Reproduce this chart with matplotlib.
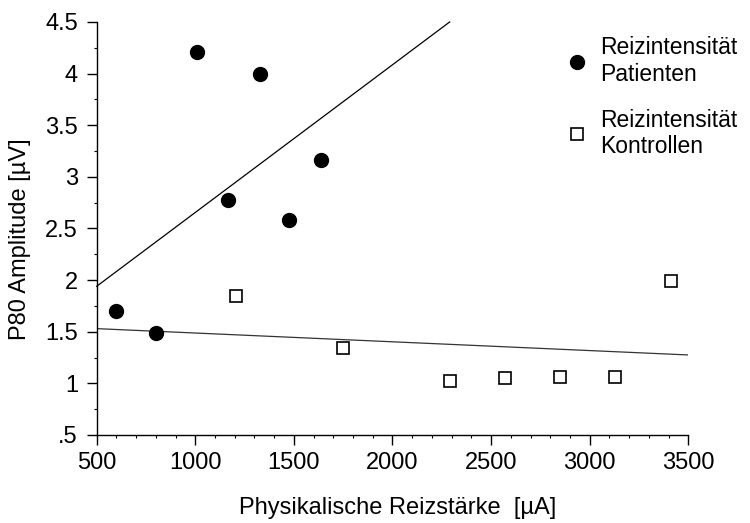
import matplotlib
matplotlib.use("Agg")
import matplotlib.pyplot as plt
from matplotlib.ticker import FuncFormatter, MultipleLocator

plt.rcParams['font.family'] = ['Liberation Sans', 'DejaVu Sans']

# Reizintensität Patienten
pat_x = [598, 801, 1010, 1166, 1328, 1475, 1639]
pat_y = [1.70, 1.485, 4.21, 2.78, 3.995, 2.58, 3.16]

# Reizintensität Kontrollen
kon_x = [1206, 1747, 2293, 2572, 2849, 3127, 3411]
kon_y = [1.85, 1.34, 1.02, 1.05, 1.06, 1.06, 1.99]

# regression lines (end points)
pat_fit_x = [500, 2290]
pat_fit_y = [1.94, 4.50]
kon_fit_x = [500, 3500]
kon_fit_y = [1.53, 1.275]

x_label = 'Physikalische Reizstärke  [µA]'
y_label = 'P80 Amplitude [µV]'
legend_labels = ['Reizintensität\nPatienten', 'Reizintensität\nKontrollen']


def _ytick(v, pos):
    s = f'{v:g}'
    return s[1:] if s.startswith('0.') else s


fig = plt.figure(figsize=(7.5, 5.23), dpi=100)
ax = fig.add_axes([0.1289, 0.1683, 0.7888, 0.7897])

ax.plot(pat_fit_x, pat_fit_y, color='black', lw=0.9, clip_on=False)
ax.plot(kon_fit_x, kon_fit_y, color='#333333', lw=0.9)

h1, = ax.plot(pat_x, pat_y, 'o', ms=10, color='black', mec='black', ls='none', clip_on=False)
h2, = ax.plot(kon_x, kon_y, 's', ms=8, mfc='white', mec='black', mew=1.2, ls='none', clip_on=False)

ax.set_xlim(500, 3500)
ax.set_ylim(0.5, 4.5)
ax.xaxis.set_major_locator(MultipleLocator(500))
ax.xaxis.set_minor_locator(MultipleLocator(100))
ax.yaxis.set_major_locator(MultipleLocator(0.5))
ax.yaxis.set_minor_locator(MultipleLocator(0.25))
ax.yaxis.set_major_formatter(FuncFormatter(_ytick))

for side in ('top', 'right'):
    ax.spines[side].set_visible(False)
for side in ('left', 'bottom'):
    ax.spines[side].set_linewidth(1.0)
ax.tick_params(which='major', direction='out', length=7, width=1.0, labelsize=17)
ax.tick_params(axis='x', which='major', pad=5.5)
ax.tick_params(axis='y', which='major', pad=6.5)
ax.tick_params(which='minor', direction='out', length=2.5, width=0.8)

ax.set_xlabel(x_label, fontsize=17, labelpad=16.5)
ax.set_ylabel(y_label, fontsize=17, labelpad=10)
ax.xaxis.label.set_x(0.508)
ax.yaxis.label.set_y(0.4746)

fig.legend([h1, h2], legend_labels, loc='upper left', bbox_to_anchor=(0.742, 0.953),
           frameon=False, fontsize=16.5, handletextpad=0.6, labelspacing=1.0,
           handlelength=0.8, borderpad=0)

fig.savefig('out.png', dpi=100)
